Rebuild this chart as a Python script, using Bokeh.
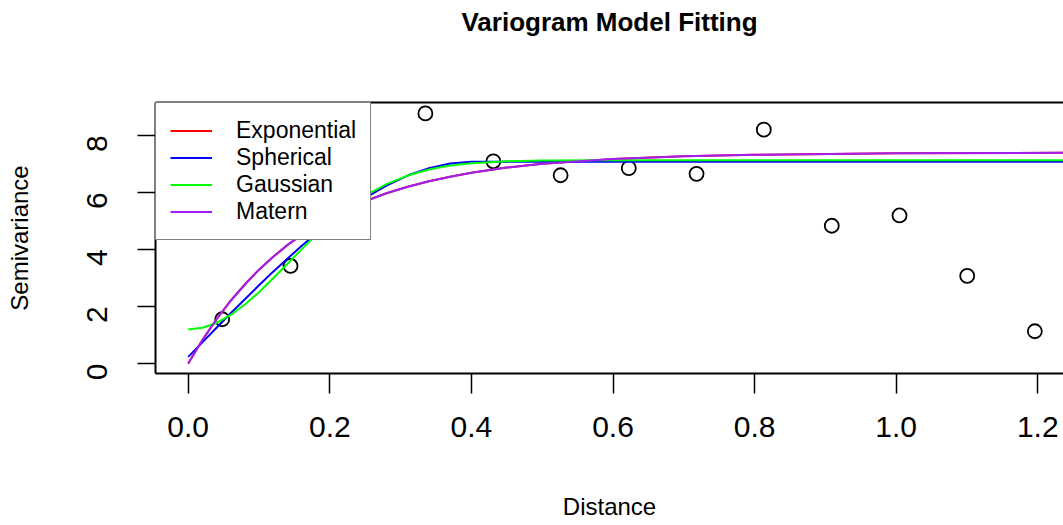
import math
from bokeh.plotting import figure
from bokeh.models import FixedTicker, Legend, LegendItem, LinearAxis
from bokeh.embed import file_html
from bokeh.resources import INLINE

# Empirical variogram (binned distances and semivariances)
dist_pts = [0.048, 0.1445, 0.335, 0.431, 0.526, 0.6223, 0.718, 0.813, 0.909, 1.0047, 1.1003, 1.1958]
gamma_pts = [1.55, 3.42, 8.77, 7.09, 6.60, 6.85, 6.65, 8.20, 4.83, 5.19, 3.07, 1.13]

# Fitted model curves, read along the distance axis
model_dist = [0.0, 0.02, 0.04, 0.06, 0.08, 0.10, 0.12, 0.14, 0.16, 0.18, 0.20, 0.22,
              0.25, 0.28, 0.31, 0.34, 0.37, 0.40, 0.45, 0.50, 0.60, 0.70, 0.80, 1.00, 1.25]
exp_fit = [0.00, 0.82, 1.55, 2.20, 2.77, 3.29, 3.74, 4.15, 4.51, 4.83, 5.11, 5.36,
           5.69, 5.97, 6.20, 6.39, 6.55, 6.69, 6.87, 7.00, 7.17, 7.27, 7.32, 7.37, 7.39]
sph_fit = [0.23, 0.74, 1.25, 1.76, 2.25, 2.74, 3.22, 3.67, 4.12, 4.54, 4.93, 5.30,
           5.81, 6.24, 6.59, 6.85, 7.01, 7.07, 7.07, 7.07, 7.07, 7.07, 7.07, 7.07, 7.07]
gau_fit = [1.19, 1.25, 1.42, 1.70, 2.07, 2.50, 2.99, 3.49, 4.00, 4.49, 4.94, 5.36,
           5.89, 6.29, 6.59, 6.80, 6.94, 7.02, 7.09, 7.12, 7.13, 7.13, 7.13, 7.13, 7.13]
mat_fit = [0.00, 0.82, 1.55, 2.20, 2.77, 3.29, 3.74, 4.15, 4.51, 4.83, 5.11, 5.36,
           5.69, 5.97, 6.20, 6.39, 6.55, 6.69, 6.87, 7.00, 7.17, 7.27, 7.32, 7.37, 7.39]

model_names = ["Exponential", "Spherical", "Gaussian", "Matern"]
model_colors = ["#FF0000", "#0000FF", "#00FF00", "#A020F0"]

x_ticks = [0.0, 0.2, 0.4, 0.6, 0.8, 1.0, 1.2]
x_tick_labels = ["0.0", "0.2", "0.4", "0.6", "0.8", "1.0", "1.2"]
y_ticks = [0, 2, 4, 6, 8]
y_tick_labels = ["0", "2", "4", "6", "8"]

title_text = "Variogram Model Fitting"

FONT = "Liberation Sans"

p = figure(width=1063, height=525, x_range=(-0.0462, 1.2363), y_range=(-0.352, 9.152),
           output_backend="svg", toolbar_location=None,
           min_border_left=155, min_border_right=0, min_border_top=102, min_border_bottom=152)
p.xgrid.visible = False
p.ygrid.visible = False
p.outline_line_color = None
p.background_fill_color = "white"
p.border_fill_color = "white"

xa = p.below[0]
ya = p.left[0]

# top axis: draws the top border of the box and carries the title
top_axis = LinearAxis(ticker=FixedTicker(ticks=[]), axis_line_color="black", axis_line_width=2,
                      major_tick_line_color=None, minor_tick_line_color=None,
                      major_tick_out=0, major_tick_in=0, minor_tick_out=0, minor_tick_in=0,
                      major_label_standoff=0, major_label_text_font_size="0px",
                      axis_label=title_text, axis_label_standoff=66,
                      axis_label_text_font=FONT, axis_label_text_font_size="26px",
                      axis_label_text_font_style="bold", axis_label_text_color="black")
p.add_layout(top_axis, "above")

# bottom and left axes
for ax in (xa, ya):
    ax.axis_line_color = "black"
    ax.axis_line_width = 2
    ax.major_tick_line_color = "black"
    ax.major_tick_line_width = 1.5
    ax.major_tick_in = 0
    ax.minor_tick_out = 0
    ax.minor_tick_in = 0
    ax.major_label_text_font = FONT
    ax.major_label_text_font_size = "30px"
    ax.major_label_text_color = "black"
    ax.axis_label_text_font = FONT
    ax.axis_label_text_font_size = "24px"
    ax.axis_label_text_font_style = "normal"
    ax.axis_label_text_color = "black"

xa.ticker = FixedTicker(ticks=x_ticks)
xa.major_label_overrides = dict(zip(x_ticks, x_tick_labels))
xa.major_tick_out = 20
xa.major_label_standoff = 23
xa.axis_label = "Distance"
xa.axis_label_standoff = 53

ya.ticker = FixedTicker(ticks=y_ticks)
ya.major_label_overrides = dict(zip(y_ticks, y_tick_labels))
ya.major_tick_out = 18
ya.major_label_standoff = 40
ya.major_label_orientation = math.pi / 2
ya.axis_label = "Semivariance"
ya.axis_label_standoff = 42

# data points
p.scatter(dist_pts, gamma_pts, marker="circle", size=14, fill_color=None,
          line_color="black", line_width=1.8)

# model curves
renderers = []
for ys, c in zip([exp_fit, sph_fit, gau_fit, mat_fit], model_colors):
    renderers.append(p.line(model_dist, ys, line_color=c, line_width=2))

legend = Legend(items=[LegendItem(label=n, renderers=[r]) for n, r in zip(model_names, renderers)],
                location="top_left", margin=0, padding=14, spacing=0,
                glyph_width=42, glyph_height=27, label_height=27, label_standoff=24,
                label_text_font=FONT, label_text_font_size="23px", label_text_color="black",
                border_line_color="black", border_line_width=1.5,
                background_fill_color="white", background_fill_alpha=1.0)
p.add_layout(legend)

open("out.html", "w").write(file_html(p, INLINE))
